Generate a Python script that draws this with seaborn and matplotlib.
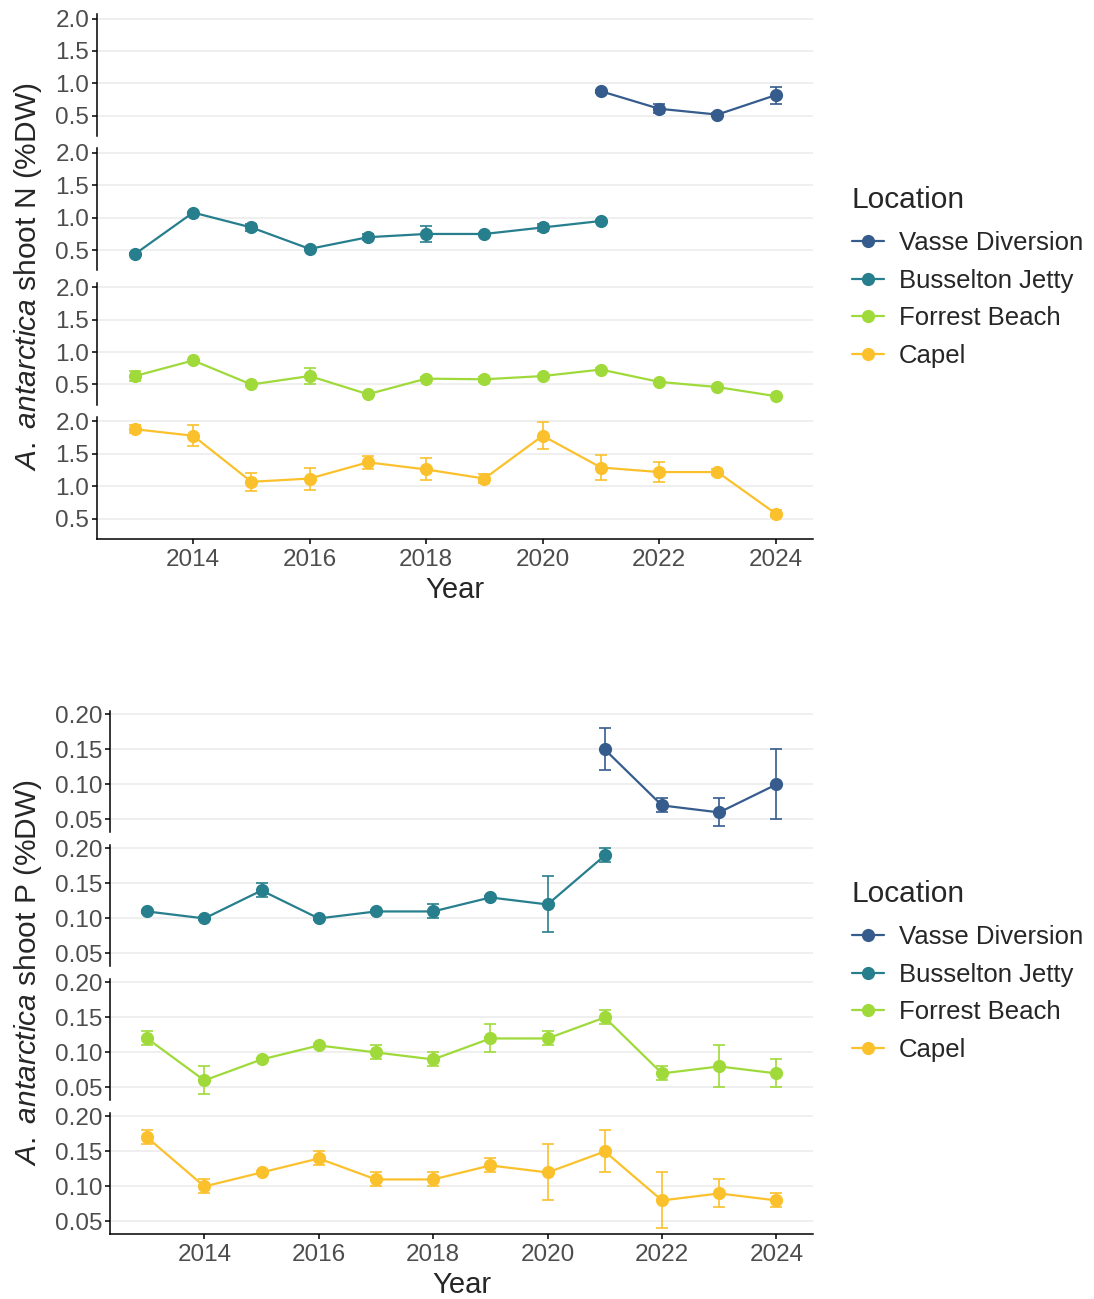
import numpy as np
import pandas as pd
import matplotlib
matplotlib.use("Agg")
import matplotlib.pyplot as plt
from matplotlib.lines import Line2D
import seaborn as sns

# ---- data ----
LOCATIONS = ["Vasse Diversion", "Busselton Jetty", "Forrest Beach", "Capel"]
COLORS = ["#365C8D", "#277F8E", "#9FDA3A", "#FBC12D"]

vasse_years = [2021, 2022, 2023, 2024]
busselton_years = [2013, 2014, 2015, 2016, 2017, 2018, 2019, 2020, 2021]
forrest_years = [2013, 2014, 2015, 2016, 2017, 2018, 2019, 2020, 2021, 2022, 2023, 2024]
capel_years = [2013, 2014, 2015, 2016, 2017, 2018, 2019, 2020, 2021, 2022, 2023, 2024]

# shoot N (%DW) mean and standard error
vasse_n = [0.88, 0.61, 0.52, 0.82]
vasse_n_se = [0.02, 0.07, 0.02, 0.13]
busselton_n = [0.44, 1.08, 0.85, 0.52, 0.70, 0.75, 0.75, 0.85, 0.95]
busselton_n_se = [0.01, 0.01, 0.05, 0.01, 0.05, 0.12, 0.01, 0.05, 0.01]
forrest_n = [0.63, 0.87, 0.50, 0.63, 0.35, 0.59, 0.58, 0.63, 0.73, 0.54, 0.46, 0.32]
forrest_n_se = [0.08, 0.01, 0.02, 0.12, 0.01, 0.02, 0.04, 0.01, 0.02, 0.01, 0.01, 0.01]
capel_n = [1.88, 1.78, 1.07, 1.12, 1.37, 1.26, 1.12, 1.78, 1.29, 1.22, 1.22, 0.58]
capel_n_se = [0.06, 0.16, 0.14, 0.17, 0.10, 0.17, 0.07, 0.21, 0.19, 0.16, 0.04, 0.06]

# shoot P (%DW) mean and standard error
vasse_p = [0.15, 0.07, 0.06, 0.10]
vasse_p_se = [0.03, 0.01, 0.02, 0.05]
busselton_p = [0.11, 0.10, 0.14, 0.10, 0.11, 0.11, 0.13, 0.12, 0.19]
busselton_p_se = [0.002, 0.002, 0.01, 0.002, 0.002, 0.01, 0.002, 0.04, 0.01]
forrest_p = [0.12, 0.06, 0.09, 0.11, 0.10, 0.09, 0.12, 0.12, 0.15, 0.07, 0.08, 0.07]
forrest_p_se = [0.01, 0.02, 0.002, 0.002, 0.01, 0.01, 0.02, 0.01, 0.01, 0.01, 0.03, 0.02]
capel_p = [0.17, 0.10, 0.12, 0.14, 0.11, 0.11, 0.13, 0.12, 0.15, 0.08, 0.09, 0.08]
capel_p_se = [0.01, 0.01, 0.002, 0.01, 0.01, 0.01, 0.01, 0.04, 0.03, 0.04, 0.02, 0.01]

year_ticks = [2014, 2016, 2018, 2020, 2022, 2024]
n_ticks = [0.5, 1.0, 1.5, 2.0]
p_ticks = [0.05, 0.10, 0.15, 0.20]


def long_frame(years, means, ses):
    parts = []
    for loc, y, m, s in zip(LOCATIONS, years, means, ses):
        parts.append(pd.DataFrame({"Location": loc, "Year": y, "value": m, "se": s}))
    return pd.concat(parts, ignore_index=True)


all_years = [vasse_years, busselton_years, forrest_years, capel_years]
n_df = long_frame(all_years, [vasse_n, busselton_n, forrest_n, capel_n],
                  [vasse_n_se, busselton_n_se, forrest_n_se, capel_n_se])
p_df = long_frame(all_years, [vasse_p, busselton_p, forrest_p, capel_p],
                  [vasse_p_se, busselton_p_se, forrest_p_se, capel_p_se])

# ---- style ----
sns.set_style("white")
plt.rcParams["font.family"] = ["Liberation Sans", "DejaVu Sans"]
plt.rcParams["mathtext.fontset"] = "custom"
plt.rcParams["mathtext.rm"] = "Liberation Sans"
plt.rcParams["mathtext.it"] = "Liberation Sans:italic"

W, H = 1094, 1299
TICK_FS = 17.5
TITLE_FS = 21
fig = plt.figure(figsize=(W / 100, H / 100), dpi=100)


def add_px_axes(left, top, right, bottom):
    return fig.add_axes([left / W, 1 - bottom / H, (right - left) / W, (bottom - top) / H])


def draw_block(df, left, top0, step, height, yticks, ylim, fmt, ylabel):
    axes = []
    for i, (loc, color) in enumerate(zip(LOCATIONS, COLORS)):
        top = top0 + i * step
        ax = add_px_axes(left, top, 813, top + height)
        sub = df[df.Location == loc]
        ax.errorbar(sub.Year, sub.value, yerr=sub.se, fmt="none", ecolor=color,
                    elinewidth=1.2, capsize=4, capthick=1.2, zorder=2)
        sns.lineplot(data=sub, x="Year", y="value", color=color, linewidth=1.6,
                     marker="o", markersize=9.5, markeredgewidth=0, ax=ax, zorder=3,
                     errorbar=None)
        ax.set_xlim(2012.35, 2024.64)
        ax.set_ylim(*ylim)
        ax.set_yticks(yticks)
        ax.set_yticklabels([fmt.format(t) for t in yticks])
        ax.yaxis.grid(True, color="#EBEBEB", linewidth=1.1)
        ax.xaxis.grid(False)
        ax.set_axisbelow(True)
        for s in ["top", "right"]:
            ax.spines[s].set_visible(False)
        ax.spines["left"].set_color("black")
        ax.spines["left"].set_linewidth(1.1)
        ax.tick_params(axis="y", left=True, length=3.5, width=1.1, color="black",
                       labelsize=TICK_FS, labelcolor="#4D4D4D", pad=2)
        ax.set_ylabel("")
        ax.set_xticks(year_ticks)
        if i < 3:
            ax.spines["bottom"].set_visible(False)
            ax.tick_params(axis="x", bottom=False, labelbottom=False)
            ax.set_xlabel("")
        else:
            ax.spines["bottom"].set_color("black")
            ax.spines["bottom"].set_linewidth(1.1)
            ax.tick_params(axis="x", bottom=True, length=3.5, width=1.1, color="black",
                           labelsize=TICK_FS, labelcolor="#4D4D4D", pad=4)
            ax.set_xlabel("Year", fontsize=TITLE_FS, labelpad=3.5)
        axes.append(ax)
    ycenter = top0 + (3 * step + height) / 2
    fig.text(28 / W, 1 - ycenter / H, ylabel, rotation=90, ha="center", va="center",
             fontsize=TITLE_FS + 0.5)
    return axes


draw_block(n_df, 97, 14, 134.3, 122, n_ticks, (0.19, 2.07), "{:.1f}",
           r"$\mathit{A.\ antarctica}$ shoot N (%DW)")
draw_block(p_df, 110, 711, 134, 121, p_ticks, (0.032, 0.205), "{:.2f}",
           r"$\mathit{A.\ antarctica}$ shoot P (%DW)")

handles = [Line2D([0], [0], color=c, linewidth=1.6, marker="o", markersize=9.5,
                  markeredgewidth=0) for c in COLORS]
for title_y, first_y in ((200, 246), (894, 940)):
    fig.text(851 / W, 1 - title_y / H, "Location", fontsize=21.5,
             ha="left", va="center")
    fig.legend(handles, LOCATIONS, loc="upper left",
               bbox_to_anchor=(852 / W, 1 - (first_y - 15) / H), frameon=False,
               fontsize=18.5, borderpad=0, borderaxespad=0, handlelength=1.25,
               handletextpad=0.58, labelspacing=0.53)

fig.savefig("out.png", dpi=100)
